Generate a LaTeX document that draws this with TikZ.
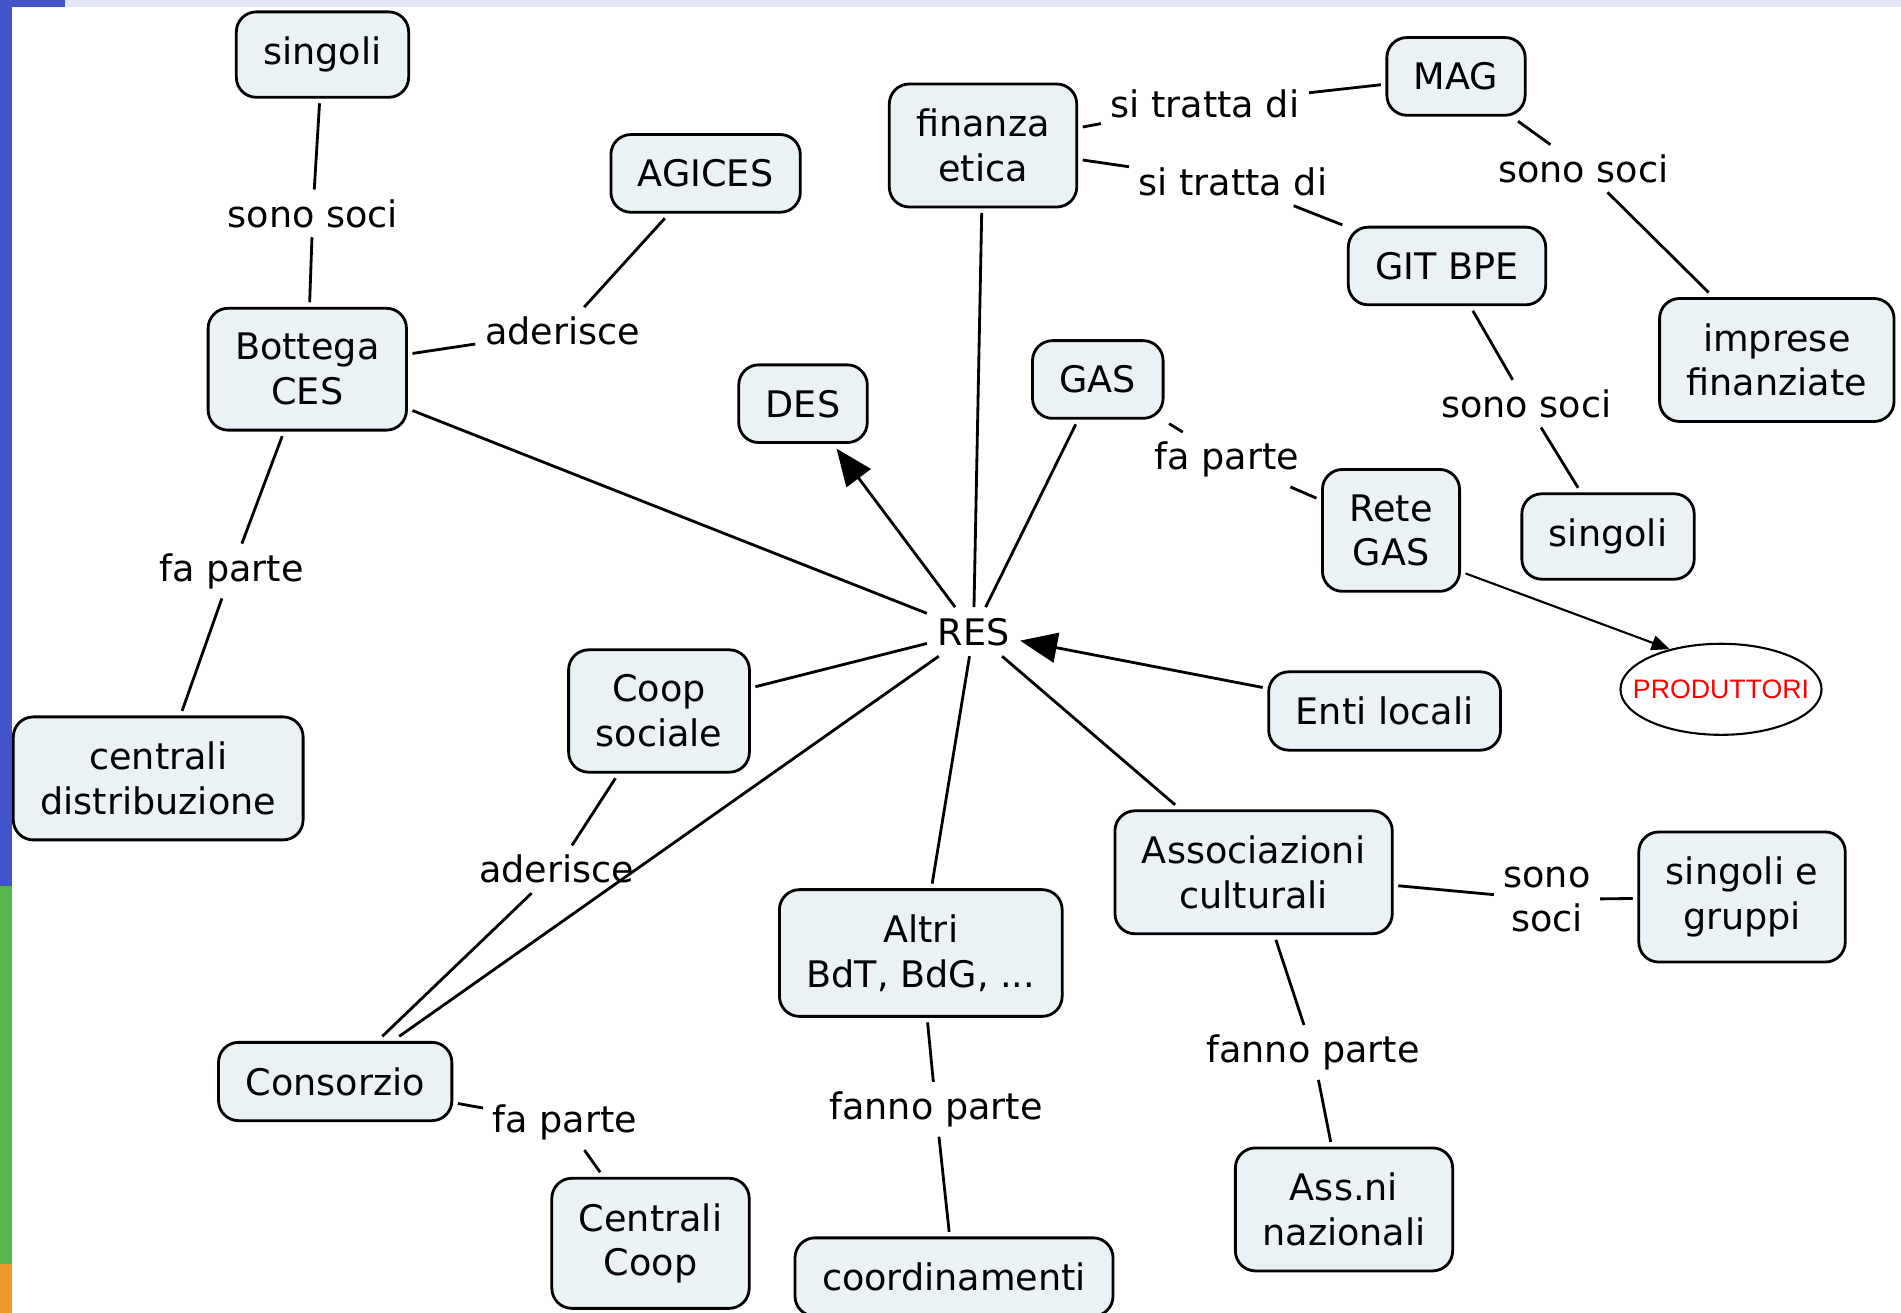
\documentclass[tikz,border=0pt]{standalone}
\usepackage{fontspec}
\setmainfont{DejaVu Sans}
\newfontfamily\prodfont{Liberation Sans}
\usetikzlibrary{arrows.meta,shapes.geometric}

\definecolor{conceptfill}{HTML}{EBF2F5}
\definecolor{barblue}{HTML}{3F55C9}
\definecolor{barlav}{HTML}{E3E6F7}
\definecolor{bargreen}{HTML}{58B54E}
\definecolor{barorange}{HTML}{F0992F}

\newcommand{\cmapfont}{\fontsize{10.4}{12.7}\selectfont}

\begin{document}
\begin{tikzpicture}[
    x=0.01cm, y=-0.01cm,
    concept/.style={draw,line width=0.8pt,rounded corners=2mm,fill=conceptfill,align=center,
      inner xsep=0.27cm,inner ysep=0.25cm,minimum height=0.7cm,outer sep=0.06cm,font=\cmapfont},
    link/.style={align=center,inner sep=0.09cm,font=\cmapfont},
    conn/.style={line width=0.8pt},
    arr/.style={conn,-{Triangle[length=3.7mm,width=3mm]}}
    ]

    \useasboundingbox (0,0) rectangle (1901,1313);

    % slide bars:
    \fill[barlav] (65,0) rectangle (1901,7);
    \fill[barblue] (0,0) rectangle (65,7);
    \fill[barblue] (0,0) rectangle (12,886);
    \fill[bargreen] (0,886) rectangle (12,1264);
    \fill[barorange] (0,1264) rectangle (12,1313);

    % concepts:
    \node (res) at (973.5,631.7) [font=\cmapfont,inner sep=0.1cm] {RES};
    \node (singoliA) at (322.5,54.6) [concept] {singoli};
    \node (agices) at (705.6,173.4) [concept] {AGICES};
    \node (bottega) at (307.3,369.2) [concept] {Bottega\\CES};
    \node (des) at (803,403.7) [concept] {DES};
    \node (fin) at (983,145.5) [concept] {finanza\\etica};
    \node (mag) at (1456,76.4) [concept] {MAG};
    \node (git) at (1447,266) [concept] {GIT BPE};
    \node (imprese) at (1776.8,360) [concept] {imprese\\finanziate};
    \node (gas) at (1097.8,379.5) [concept] {GAS};
    \node (rete) at (1391,530.4) [concept] {Rete\\GAS};
    \node (singoliB) at (1608,536.5) [concept] {singoli};
    \node (enti) at (1384.6,711) [concept] {Enti locali};
    \node (coop) at (659,711) [concept] {Coop\\sociale};
    \node (centrali) at (158.2,778.4) [concept] {centrali\\distribuzione};
    \node (assoc) at (1253.6,872.3) [concept] {Associazioni\\culturali};
    \node (gruppi) at (1742,897) [concept] {singoli e\\gruppi};
    \node (altri) at (920.8,953) [concept] {Altri\\BdT, BdG, ...};
    \node (consorzio) at (335.2,1081.5) [concept] {Consorzio};
    \node (centraliC) at (650.5,1243.3) [concept] {Centrali\\Coop};
    \node (coord) at (954,1277) [concept] {coordinamenti};
    \node (assnaz) at (1344,1209.4) [concept] {Ass.ni\\nazionali};

    \node (prod) at (1721,689.3) [draw,ellipse,line width=0.6pt,minimum width=1.98cm,minimum height=0.91cm,
      inner xsep=-0.17cm,inner ysep=0pt,text=red,font=\prodfont\fontsize{7.6}{9}\selectfont] {PRODUTTORI};

    % linking phrases:
    \node (ss1) at (312.8,213.4) [link] {sono soci};
    \node (ad1) at (562.5,331) [link] {aderisce};
    \node (fp1) at (231.6,571) [link] {fa parte};
    \node (st1) at (1205,104.3) [link] {si tratta di};
    \node (st2) at (1233,181.9) [link] {si tratta di};
    \node (ss2) at (1583.4,168.5) [link] {sono soci};
    \node (ss3) at (1526.4,403.7) [link] {sono soci};
    \node (fp2) at (1227,459.5) [link] {fa parte};
    \node (ad2) at (556.5,869.3) [link] {aderisce};
    \node (fp3) at (565,1122.7) [link] {fa parte};
    \node (fp4) at (936,1109.3) [link] {fanno parte};
    \node (fp5) at (1313,1052.4) [link] {fanno parte};
    \node (ss4) at (1547,899.6) [link] {sono\\soci};

    % connections:
    \foreach \a/\b in {singoliA/ss1,ss1/bottega,agices/ad1,ad1/bottega,bottega/fp1,fp1/centrali,
      fin/st1,st1/mag,fin/st2,st2/git,mag/ss2,ss2/imprese,git/ss3,ss3/singoliB,gas/fp2,fp2/rete,
      coop/ad2,ad2/consorzio,consorzio/fp3,fp3/centraliC,altri/fp4,fp4/coord,assoc/fp5,fp5/assnaz,
      assoc/ss4,ss4/gruppi}
    \draw [conn] (\a) -- (\b);

    \foreach \b in {bottega,fin,gas,coop,consorzio,altri,assoc}
    \draw [conn] (res) -- (\b);

    \draw [arr] (res) -- (des);
    \draw [arr] (enti) -- (res);
    \draw [line width=0.6pt,-{Triangle[length=1.8mm,width=1.5mm]}] (rete.-30) -- (prod.142);

  \end{tikzpicture}
\end{document}
